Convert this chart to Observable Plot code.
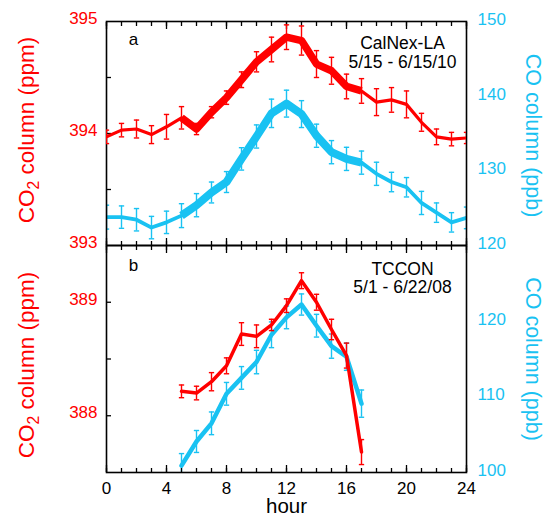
<!DOCTYPE html>
<html><head><meta charset="utf-8">
<script src="https://cdn.jsdelivr.net/npm/d3@7"></script>
<script src="https://cdn.jsdelivr.net/npm/@observablehq/plot@0.6"></script>
<style>
body{margin:0;background:#fff;}
#chart{position:relative;width:544px;height:517px;background:#fff;}
#chart svg{position:absolute;left:0;top:0;}
</style></head><body><div id="chart"></div>
<script>
// ---------- data ----------
const hoursA = [0,1,2,3,4,5,6,7,8,9,10,11,12,13,14,15,16,17,18,19,20,21,22,23,24];
const co2A    = [393.97,394.03,394.04,393.99,394.06,394.14,394.04,394.19,394.32,394.48,394.64,394.75,394.86,394.83,394.62,394.56,394.42,394.38,394.28,394.30,394.26,394.10,393.97,393.95,393.96];
const co2ErrA = [0.06,0.06,0.08,0.08,0.11,0.10,0.05,0.05,0.06,0.07,0.09,0.11,0.11,0.13,0.12,0.12,0.11,0.11,0.12,0.11,0.12,0.08,0.07,0.06,0.05];
const coA     = [123.8,123.8,123.45,122.4,123.1,124.0,125.4,127.1,128.5,131.6,134.6,137.7,139.0,137.6,134.7,132.5,131.6,131.1,129.6,128.5,127.8,125.7,124.4,123.1,123.7];
const coErrA  = [1.6,1.5,1.5,1.5,1.5,1.6,1.55,1.4,1.4,1.5,1.55,1.9,1.8,1.8,1.55,1.55,1.55,1.55,1.55,1.3,1.3,1.55,1.3,1.3,1.45];

const hoursB  = [5,6,7,8,9,10,11,12,13,14,15,16,17];
const co2B    = [388.215,388.20,388.30,388.44,388.72,388.70,388.80,388.97,389.19,389.00,388.76,388.53,387.68];
const co2ErrB = [0.056,0.06,0.08,0.07,0.10,0.10,0.05,0.06,0.07,0.07,0.09,0.11,0.11];
const coB     = [100.9,104.1,106.5,110.4,112.5,114.6,118.2,120.5,122.2,119.4,116.7,115.3,109.1];
const coErrB  = [1.6,1.45,1.5,1.5,1.5,1.55,1.7,1.5,1.4,1.5,1.6,1.8,1.8];

// ticks & labels
const hourMinor  = [0,1,2,3,4,5,6,7,8,9,10,11,12,13,14,15,16,17,18,19,20,21,22,23,24];
const hourMajor  = [0,4,8,12,16,20,24];
const co2TicksA  = [393,394,395];
const co2MinorA  = [393.5,394,394.5];
const coTicksA   = [120,130,140,150];
const co2TicksB  = [388,389];
const co2MinorB  = [388,388.5,389];
const coTicksB   = [100,110,120];
const thickHours = [5,17];   // span of hours drawn with the heavy line in panel a

const co2Title = "CO2 column (ppm)";
const coTitle  = "CO column (ppb)";
const xTitle   = "hour";

// ---------- styling ----------
const RED = "#ff0000", BLUE = "#19c2f2";
const FONT = '"Liberation Sans", Arial, Helvetica, sans-serif';
const W = 544, H = 517, ML = 106, MR = 78;
const fmt = d3.format("d");

const cap = {draw(ctx, size){ const w = Math.sqrt(size); ctx.moveTo(-w/2,0); ctx.lineTo(w/2,0); }};

function series(rows, color, thinW, thickW){
  const m = [
    Plot.line(rows, {x:"h", y:"v", stroke:color, strokeWidth:thinW, clip:true})
  ];
  if (thickW) m.push(Plot.line(rows.filter(d => d.h >= thickHours[0] && d.h <= thickHours[1]),
      {x:"h", y:"v", stroke:color, strokeWidth:thickW, strokeLinecap:"butt", clip:true}));
  m.push(
    Plot.ruleX(rows, {x:"h", y1:d => d.v - d.e, y2:d => d.v + d.e, stroke:color, strokeWidth:1.4, clip:true}),
    Plot.dot(rows, {x:"h", y:d => d.v - d.e, symbol:cap, r:3, fill:"none", stroke:color, strokeWidth:1.4, clip:true}),
    Plot.dot(rows, {x:"h", y:d => d.v + d.e, symbol:cap, r:3, fill:"none", stroke:color, strokeWidth:1.4, clip:true})
  );
  return m;
}

const panels = [
  {top:21, bottom:H-245, co2Domain:[393,395], coDomain:[120,150],
   co2Ticks:co2TicksA, co2Minor:co2MinorA, coTicks:coTicksA,
   hours:hoursA, co2:co2A, co2Err:co2ErrA, co:coA, coErr:coErrA,
   letter:"a", site:"CalNex-LA\n5/15 - 6/15/10", siteDy:31, letterDy:18,
   thin:[3.2,3.8], thick:[7.5,8], xLabels:false, titleDy:[-3.5,2]},
  {top:245, bottom:H-472, co2Domain:[387.5,389.5], coDomain:[100,130],
   co2Ticks:co2TicksB, co2Minor:co2MinorB, coTicks:coTicksB,
   hours:hoursB, co2:co2B, co2Err:co2ErrB, co:coB, coErr:coErrB,
   letter:"b", site:"TCCON\n5/1 - 6/22/08", siteDy:32.5, letterDy:20,
   thin:[3.5,4.5], thick:null, xLabels:true, titleDy:[6,0]}
];

const chart = document.getElementById("chart");
const base = p => ({width:W, height:H, marginLeft:ML, marginRight:MR, marginTop:p.top, marginBottom:p.bottom,
  style:{background:"transparent", fontFamily:FONT, overflow:"visible"}});

for (const p of panels) {
  const rowsCO  = p.hours.map((h,i) => ({h, v:p.co[i],  e:p.coErr[i]}));
  // CO (right axis) layer
  chart.append(Plot.plot({...base(p),
    x:{domain:[0,24], axis:null},
    y:{domain:p.coDomain},
    marks:[
      Plot.axisY({anchor:"right", ticks:p.coTicks, tickFormat:fmt, tickSize:0, tickPadding:11, color:BLUE, fontSize:17, dy:-2, label:null}),
      Plot.text([coTitle], {frameAnchor:"right", rotate:90, dx:66, dy:p.titleDy[1], textAnchor:"middle", lineAnchor:"middle", fill:BLUE, fontSize:21.5}),
      ...series(rowsCO, BLUE, p.thin[1], p.thick && p.thick[1])
    ]}));
}
for (const p of panels) {
  const rowsCO2 = p.hours.map((h,i) => ({h, v:p.co2[i], e:p.co2Err[i]}));
  chart.append(Plot.plot({...base(p),
    x:{domain:[0,24]},
    y:{domain:p.co2Domain},
    marks:[
      Plot.frame({stroke:"black", strokeWidth:1.6}),
      Plot.axisY({ticks:p.co2Ticks, tickFormat:fmt, tickSize:0, tickPadding:9, color:RED, fontSize:17, dy:-3, label:null}),
      Plot.axisY({ticks:p.co2Minor, tickSize:-5, fill:"none", stroke:"black", strokeWidth:1.3, label:null}),
      Plot.axisX({anchor:"top", ticks:hourMinor, tickSize:-4, fill:"none", stroke:"black", strokeWidth:1.3, label:null}),
      Plot.axisX({anchor:"top", ticks:hourMajor, tickSize:-7, fill:"none", stroke:"black", strokeWidth:1.3, label:null}),
      Plot.axisX({anchor:"bottom", ticks:hourMinor, tickSize:-4, fill:"none", stroke:"black", strokeWidth:1.3, label:null}),
      Plot.axisX({anchor:"bottom", ticks:hourMajor, tickSize:-7, fill:"none", stroke:"black", strokeWidth:1.3, label:null}),
      p.xLabels ? Plot.axisX({anchor:"bottom", ticks:hourMajor, tickFormat:fmt, tickSize:0, tickPadding:9, fontSize:17, color:"black", label:null}) : null,
      p.xLabels ? Plot.text([xTitle], {frameAnchor:"bottom", dy:33.5, textAnchor:"middle", lineAnchor:"middle", fontSize:20.5, fill:"black"}) : null,
      Plot.text([co2Title], {frameAnchor:"left", rotate:-90, dx:-80, dy:p.titleDy[0], textAnchor:"middle", lineAnchor:"middle", fill:RED, fontSize:22.5}),
      Plot.text([p.letter], {frameAnchor:"top-left", dx:27, dy:p.letterDy, textAnchor:"middle", lineAnchor:"middle", fontSize:17, fill:"black"}),
      Plot.text([p.site], {frameAnchor:"top-right", dx:-64, dy:p.siteDy, textAnchor:"middle", lineAnchor:"middle", fontSize:17.5, lineHeight:1.05, fill:"black"}),
      ...series(rowsCO2, RED, p.thin[0], p.thick && p.thick[0])
    ]}));
}

// subscript the 2 in CO2
d3.select(chart).selectAll("text").each(function(){
  if (this.textContent === co2Title) {
    const t = d3.select(this); t.text(null);
    t.append("tspan").text("CO");
    t.append("tspan").attr("dy", 5).attr("font-size", "70%").text("2");
    t.append("tspan").attr("dy", -5).text(" column (ppm)");
  }
});
</script></body></html>
